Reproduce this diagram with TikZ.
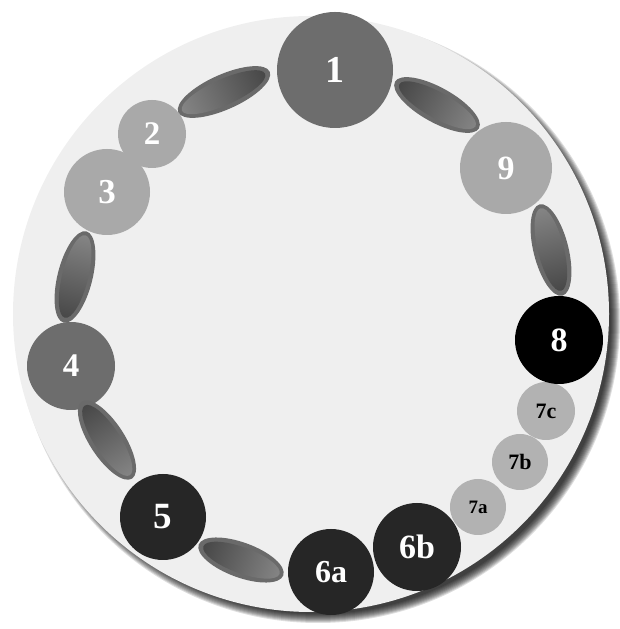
\documentclass[tikz,border=0pt]{standalone}
\usepackage{fontspec}
\setmainfont{Liberation Serif}
\usepackage{tikz}
\usetikzlibrary{shapes.geometric}
\definecolor{plate}{HTML}{EFEFEF}
\definecolor{midgrey}{HTML}{6D6D6D}
\definecolor{palegrey}{HTML}{A9A9A9}
\definecolor{smallgrey}{HTML}{B2B2B2}
\definecolor{nearblack}{HTML}{262626}
\definecolor{ringgrey}{HTML}{6A6A6A}

\begin{document}
\begin{tikzpicture}[
  x=1pt, y=1pt,
  ball/.style={circle, inner sep=0pt, font=\bfseries, text=white},
  midball/.style={ball, fill=midgrey},
  paleball/.style={ball, fill=palegrey},
  darkball/.style={ball, fill=nearblack},
  blackball/.style={ball, fill=black},
  tinyball/.style={ball, fill=smallgrey, text=black},
  lensring/.style={ellipse, inner sep=0pt, fill=ringgrey},
  lenscore/.style={ellipse, inner sep=0pt,
                   left color=black!72, middle color=black!16, right color=black!48}
]
\useasboundingbox (0,0) rectangle (619,629);

% --- plate with soft shadow ---------------------------------------------
\foreach \r in {0,...,9}{%
  \fill[black, opacity=0.13] (318,308) circle (293+\r);
}
\fill[plate] (311,315) circle (298);

% --- stations -------------------------------------------------------------
\node[midball, minimum size=116] (s1) at (335,559) {\fontsize{38}{38}\selectfont 1};
\node[paleball, minimum size=68] (s2) at (152,495) {\fontsize{33}{33}\selectfont 2};
\node[paleball, minimum size=86] (s3) at (107,437) {\fontsize{35}{35}\selectfont 3};
\node[midball, minimum size=88] (s4) at (71,263) {\fontsize{33}{33}\selectfont 4};
\node[darkball, minimum size=86] (s5) at (163,112) {\fontsize{37}{37}\selectfont 5};
\node[darkball, minimum size=86] (s6a) at (331,57) {\fontsize{32}{32}\selectfont 6a};
\node[darkball, minimum size=88] (s6b) at (417,82) {\fontsize{34}{34}\selectfont 6b};
\node[tinyball, minimum size=56] (s7a) at (478,122) {\fontsize{19}{19}\selectfont 7a};
\node[tinyball, minimum size=56] (s7b) at (520,167) {\fontsize{22}{22}\selectfont 7b};
\node[tinyball, minimum size=58] (s7c) at (546,218) {\fontsize{22}{22}\selectfont 7c};
\node[blackball, minimum size=88] (s8) at (559,289) {\fontsize{34}{34}\selectfont 8};
\node[paleball, minimum size=92] (s9) at (506,461) {\fontsize{34}{34}\selectfont 9};

% --- lenses between stations ---------------------------------------------
\foreach \n/\x/\y/\a/\w in {l12/224/537/204/100, l19/437/524/-29/96,
                            l34/75/352/76/94, l45/107/189/-57/92,
                            l56/241/69/-20/90, l98/551/379/104/94}{%
  \begin{scope}[transform canvas={shift={(\x,\y)}, rotate=\a}]
    \node[lensring, minimum width=\w, minimum height=35] (\n) at (0,0) {};
    \node[lenscore, minimum width=\w-9, minimum height=26] (\n-in) at (0.5,0) {};
  \end{scope}
}

\end{tikzpicture}
\end{document}
